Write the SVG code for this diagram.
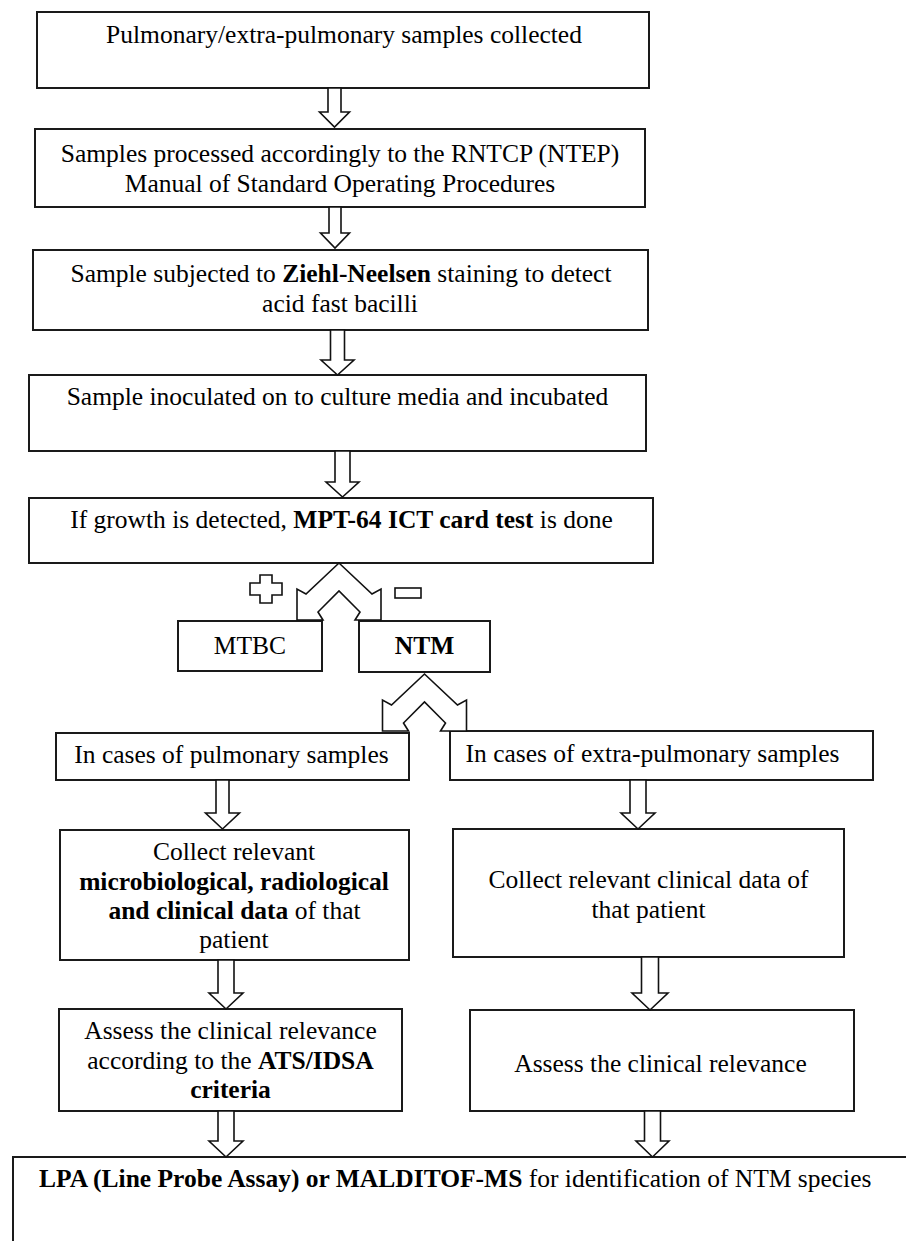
<svg xmlns="http://www.w3.org/2000/svg" xmlns:xlink="http://www.w3.org/1999/xlink" width="906" height="1241" viewBox="0 0 906 1241">
<style>
.box{fill:#fff;stroke:#1a1a1a;stroke-width:2}
.arrow{fill:#fff;stroke:#111;stroke-width:1.6;stroke-linejoin:miter}
.t{font-family:"Liberation Serif","Times New Roman",serif;font-size:25.5px;fill:#000;text-anchor:middle}
.b{font-weight:bold}
</style>
<defs>
<path id="fork" d="M0,0 L-33,31 L-42,26 L-42,57 L-16,57 L-21,49 L0,28 L21,49 L16,57 L42,57 L42,26 L33,31 Z"/>
</defs>
<rect width="906" height="1241" fill="#fff"/>

<g id="n1"><rect class="box" x="37" y="12" width="612" height="76"/>
<text class="t" x="344" y="43">Pulmonary/extra-pulmonary samples collected</text></g>

<g id="n2"><rect class="box" x="35" y="129" width="610" height="78"/>
<text class="t" x="340" y="162">Samples processed accordingly to the RNTCP (NTEP)</text>
<text class="t" x="340" y="192">Manual of Standard Operating Procedures</text></g>

<g id="n3"><rect class="box" x="33" y="250" width="615" height="80"/>
<text class="t" x="341" y="282">Sample subjected to <tspan class="b">Ziehl-Neelsen</tspan> staining to detect</text>
<text class="t" x="340" y="312">acid fast bacilli</text></g>

<g id="n4"><rect class="box" x="29" y="375" width="617" height="76"/>
<text class="t" x="337.5" y="405">Sample inoculated on to culture media and incubated</text></g>

<g id="n5"><rect class="box" x="29" y="498" width="624" height="65"/>
<text class="t" x="341.5" y="528">If growth is detected, <tspan class="b">MPT-64 ICT card test</tspan> is done</text></g>

<g id="mtbc"><rect class="box" x="178" y="621" width="144" height="50"/>
<text class="t" x="250" y="654">MTBC</text></g>

<g id="ntm"><rect class="box" x="359" y="621" width="131" height="51"/>
<text class="t b" x="424.5" y="654">NTM</text></g>

<g id="pulm"><rect class="box" x="56" y="733" width="353" height="47"/>
<text class="t" x="231.5" y="763">In cases of pulmonary samples</text></g>

<g id="extra"><rect class="box" x="450" y="731" width="423" height="49"/>
<text class="t" x="652.5" y="762">In cases of extra-pulmonary samples</text></g>

<g id="collectL"><rect class="box" x="60" y="830" width="349" height="130"/>
<text class="t" x="234" y="860">Collect relevant</text>
<text class="t b" x="234" y="890">microbiological, radiological</text>
<text class="t" x="234.5" y="919"><tspan class="b">and clinical data</tspan> of that</text>
<text class="t" x="234" y="948">patient</text></g>

<g id="collectR"><rect class="box" x="453" y="829" width="391" height="128"/>
<text class="t" x="648.5" y="888">Collect relevant clinical data of</text>
<text class="t" x="648.5" y="918">that patient</text></g>

<g id="assessL"><rect class="box" x="59" y="1009" width="343" height="102"/>
<text class="t" x="230.5" y="1039">Assess the clinical relevance</text>
<text class="t" x="230.5" y="1069">according to the <tspan class="b">ATS/IDSA</tspan></text>
<text class="t b" x="230.5" y="1098">criteria</text></g>

<g id="assessR"><rect class="box" x="470" y="1010" width="384" height="101"/>
<text class="t" x="660.5" y="1072">Assess the clinical relevance</text></g>

<g id="ident"><rect class="box" x="13" y="1157" width="920" height="120"/>
<text class="t" x="39" y="1187" style="text-anchor:start"><tspan class="b">LPA (Line Probe Assay) or MALDITOF-MS</tspan> for identification of NTM species</text></g>

<g id="connectors">
<path class="arrow" d="M328,88 L341,88 L341,112 L349.5,112 L334.5,127 L319.5,112 L328,112 Z"/>
<path class="arrow" d="M329,207 L341,207 L341,233 L349.5,233 L335,248 L320.5,233 L329,233 Z"/>
<path class="arrow" d="M330.5,330 L344.5,330 L344.5,360 L354,360 L337.5,375 L321,360 L330.5,360 Z"/>
<path class="arrow" d="M335,451 L350,451 L350,482 L359,482 L342.5,497 L326,482 L335,482 Z"/>
<use xlink:href="#fork" href="#fork" class="arrow" x="339" y="563"/>
<path class="arrow" d="M260,575 H272 V583 H282 V595 H272 V603 H260 V595 H250 V583 H260 Z"/>
<rect class="arrow" x="395" y="588" width="26" height="10"/>
<use xlink:href="#fork" href="#fork" class="arrow" x="424.5" y="674"/>
<path class="arrow" d="M216,780 L229,780 L229,813 L239.5,813 L222.5,829 L205.5,813 L216,813 Z"/>
<path class="arrow" d="M630,780 L646,780 L646,813 L655,813 L638,829 L621,813 L630,813 Z"/>
<path class="arrow" d="M218,960 L234,960 L234,993 L243,993 L226,1009 L209,993 L218,993 Z"/>
<path class="arrow" d="M641.5,957 L658.5,957 L658.5,993 L668,993 L650,1010 L632,993 L641.5,993 Z"/>
<path class="arrow" d="M218,1111 L234,1111 L234,1141 L243,1141 L226,1157 L209,1141 L218,1141 Z"/>
<path class="arrow" d="M644.5,1111 L660.5,1111 L660.5,1141 L669,1141 L652.5,1157 L636,1141 L644.5,1141 Z"/>
</g>
</svg>
